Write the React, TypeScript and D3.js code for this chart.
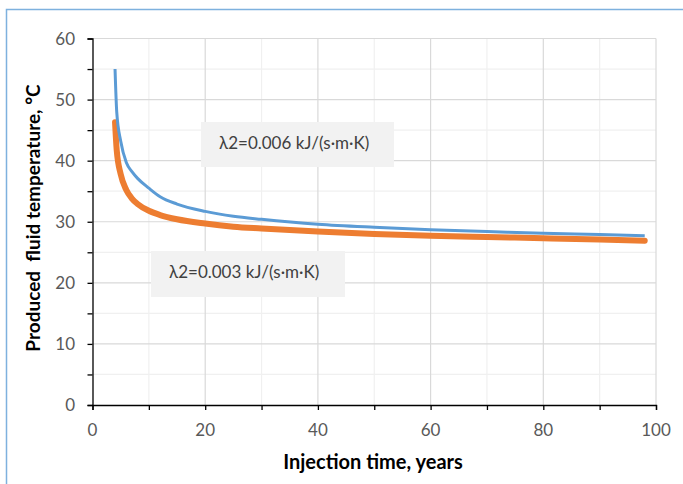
import React, { useEffect, useRef } from 'react';
import * as d3 from 'd3';

// injection time (years)
const years = [4, 4.3, 5, 6, 7, 8, 10, 12, 15, 20, 25, 30, 40, 50, 60, 70, 80, 90, 98];
// lambda2 = 0.006
const tempHigh = [55, 48, 43.2, 39.7, 38.2, 37.1, 35.5, 34.1, 32.9, 31.7, 30.9, 30.4, 29.6, 29.1, 28.7, 28.4, 28.1, 27.9, 27.7];
// lambda2 = 0.003
const tempLow = [46.3, 41.7, 37.8, 35.2, 33.8, 32.9, 31.8, 31.1, 30.4, 29.7, 29.2, 28.9, 28.4, 28.0, 27.7, 27.5, 27.3, 27.1, 26.9];

const xTicks = [0, 20, 40, 60, 80, 100];
const yTicks = [0, 10, 20, 30, 40, 50, 60];
const labelHigh = 'λ2=0.006 kJ/(s·m·K)';
const labelLow = 'λ2=0.003 kJ/(s·m·K)';

const App = () => {
  const ref = useRef<SVGSVGElement>(null);

  useEffect(() => {
    const svg = d3.select(ref.current);
    svg.selectAll('*').remove();

    const left = 92.5, right = 656, top = 38.5, bottom = 405;
    const font = 'Lato, "Open Sans", sans-serif';

    const x = d3.scaleLinear().domain([0, 100]).range([left, right]);
    const y = d3.scaleLinear().domain([0, 60]).range([bottom, top]);

    // outer frame
    svg.append('rect')
      .attr('x', 6.5).attr('y', 9.5)
      .attr('width', 700).attr('height', 500)
      .attr('fill', 'white')
      .attr('stroke', '#7eb1de')
      .attr('stroke-width', 1.5);

    // minor grid
    const g = svg.append('g');
    d3.range(10, 100, 20).forEach((v) => {
      g.append('line').attr('x1', x(v)).attr('x2', x(v)).attr('y1', top).attr('y2', bottom)
        .attr('stroke', '#f0f0f0').attr('stroke-width', 1.2);
    });
    d3.range(5, 60, 10).forEach((v) => {
      g.append('line').attr('x1', left).attr('x2', right).attr('y1', y(v)).attr('y2', y(v))
        .attr('stroke', '#f0f0f0').attr('stroke-width', 1.2);
    });
    // major grid
    xTicks.slice(1).forEach((v) => {
      g.append('line').attr('x1', x(v)).attr('x2', x(v)).attr('y1', top).attr('y2', bottom)
        .attr('stroke', '#d9d9d9').attr('stroke-width', 1.2);
    });
    yTicks.slice(1).forEach((v) => {
      g.append('line').attr('x1', left).attr('x2', right).attr('y1', y(v)).attr('y2', y(v))
        .attr('stroke', '#d9d9d9').attr('stroke-width', 1.2);
    });

    // axes
    svg.append('g')
      .attr('transform', `translate(0,${bottom})`)
      .call(d3.axisBottom(x).tickValues(d3.range(0, 101, 10)).tickSize(5).tickFormat(() => ''))
      .call((a) => a.select('.domain').attr('stroke', '#000').attr('stroke-width', 1.3))
      .call((a) => a.selectAll('line').attr('stroke', '#000').attr('stroke-width', 1.3));
    svg.append('g')
      .attr('transform', `translate(${left},0)`)
      .call(d3.axisLeft(y).tickValues(d3.range(0, 61, 5)).tickSize(5).tickFormat(() => ''))
      .call((a) => a.select('.domain').attr('stroke', '#000').attr('stroke-width', 1.3))
      .call((a) => a.selectAll('line').attr('stroke', '#000').attr('stroke-width', 1.3));

    // tick labels
    svg.append('g').selectAll('text').data(xTicks).join('text')
      .attr('x', (d) => x(d)).attr('y', 436)
      .attr('text-anchor', 'middle')
      .attr('font-family', font).attr('font-size', 17).attr('fill', '#595959')
      .text((d) => d);
    svg.append('g').selectAll('text').data(yTicks).join('text')
      .attr('x', 75).attr('y', (d) => y(d) + 6)
      .attr('text-anchor', 'end')
      .attr('font-family', font).attr('font-size', 17).attr('fill', '#595959')
      .text((d) => d);

    // axis titles
    svg.append('text')
      .attr('x', 373).attr('y', 469)
      .attr('text-anchor', 'middle')
      .attr('font-family', font).attr('font-size', 20).attr('font-weight', 'bold')
      .attr('fill', '#000')
      .text('Injection time, years');
    svg.append('text')
      .attr('transform', `translate(40,${218}) rotate(-90)`)
      .attr('text-anchor', 'middle')
      .attr('font-family', font).attr('font-size', 19).attr('font-weight', 'bold')
      .attr('fill', '#000')
      .style('white-space', 'pre')
      .text('Produced  fluid temperature, °C');

    // curves
    const line = d3.line<number>()
      .x((_, i) => x(years[i]))
      .y((d) => y(d))
      .curve(d3.curveMonotoneX);

    svg.append('path').datum(tempLow).attr('d', line)
      .attr('fill', 'none').attr('stroke', '#ed7d31').attr('stroke-width', 6)
      .attr('stroke-linecap', 'round').attr('stroke-linejoin', 'round');
    svg.append('path').datum(tempHigh).attr('d', line)
      .attr('fill', 'none').attr('stroke', '#5b9bd5').attr('stroke-width', 3)
      .attr('stroke-linejoin', 'round');

    // data labels
    const boxes = [
      { text: labelHigh, x0: 201, y0: 122, w: 193, h: 45 },
      { text: labelLow, x0: 151, y0: 251, w: 194, h: 46 },
    ];
    boxes.forEach((b) => {
      svg.append('rect').attr('x', b.x0).attr('y', b.y0).attr('width', b.w).attr('height', b.h)
        .attr('fill', '#f2f2f2');
      svg.append('text')
        .attr('x', b.x0 + 18).attr('y', b.y0 + 27)
        .attr('font-family', font).attr('font-size', 17).attr('fill', '#404040')
        .text(b.text);
    });
  }, []);

  return (
    <svg ref={ref} width={683} height={484}
      style={{ position: 'absolute', left: 0, top: 0, background: 'white' }} />
  );
};

export default App;
